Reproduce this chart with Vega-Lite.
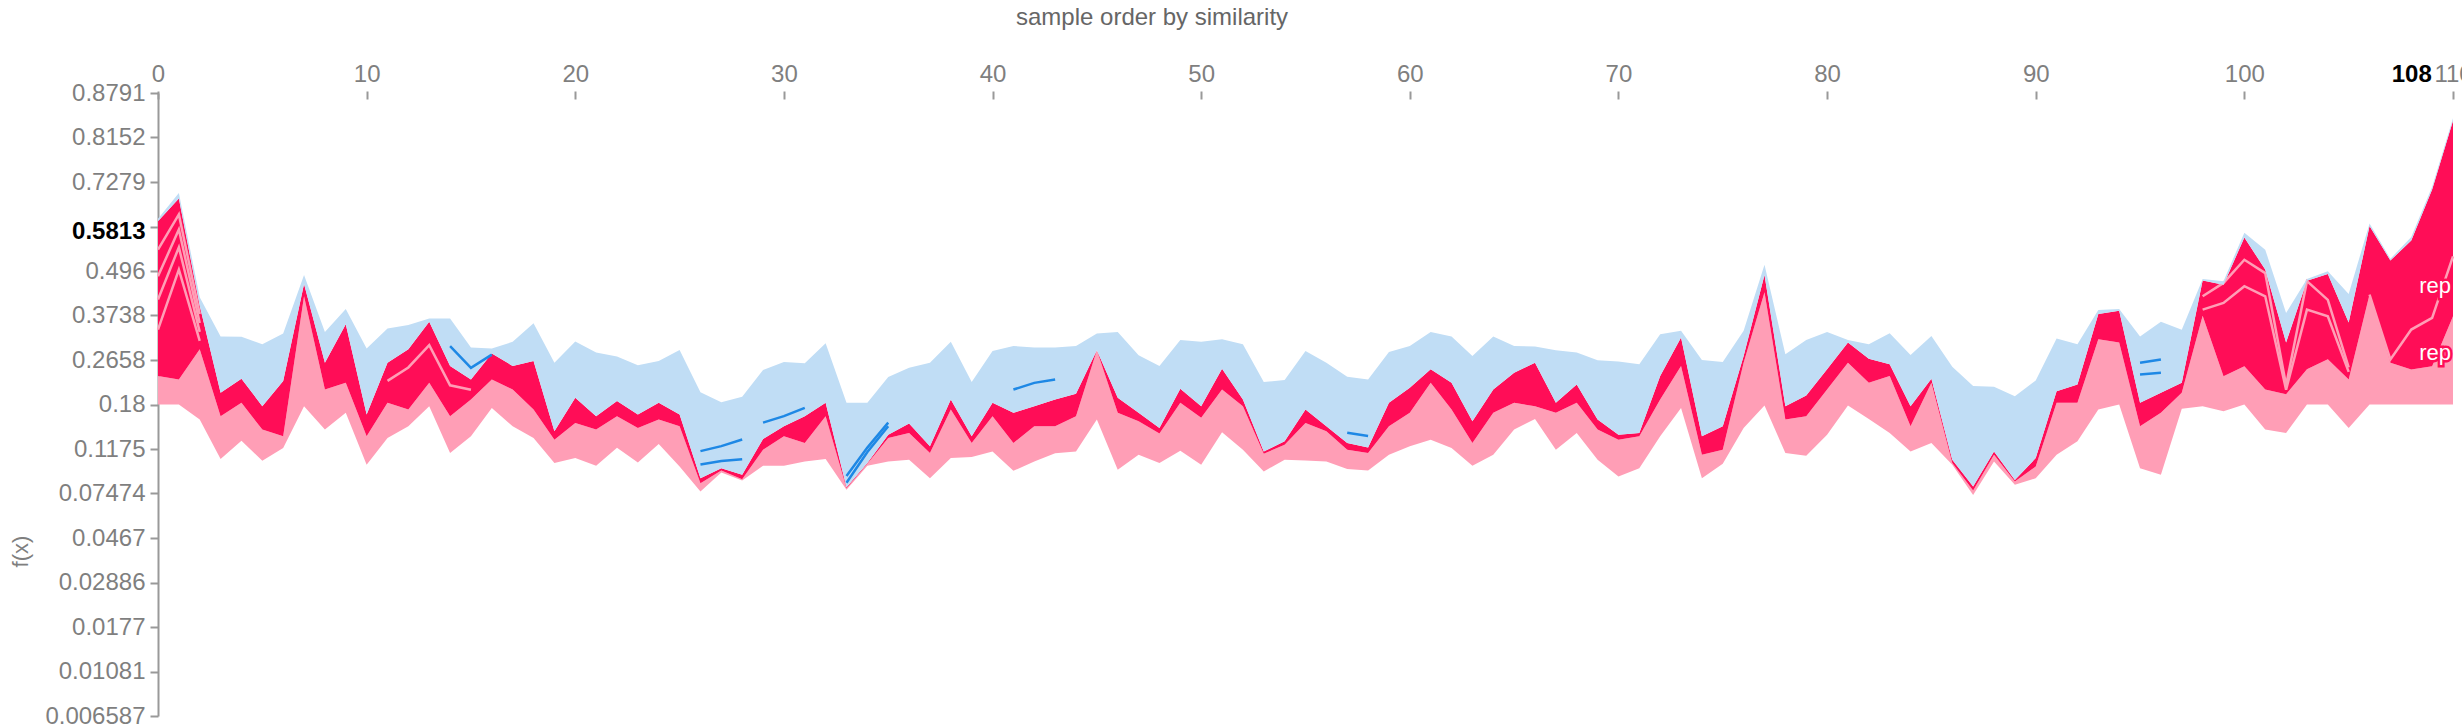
{
  "$schema": "https://vega.github.io/schema/vega-lite/v6.json",
  "autosize": {"type": "none"},
  "width": 2295,
  "height": 623,
  "padding": {"left": 158, "top": 93, "right": 9, "bottom": 8},
  "background": "white",
  "config": {
    "view": {"stroke": null},
    "font": "Liberation Sans",
    "axis": {"labelFont": "Liberation Sans", "titleFont": "Liberation Sans", "grid": false}
  },
  "title": {
    "text": "sample order by similarity",
    "anchor": "start",
    "frame": "group",
    "dx": 858,
    "dy": -28,
    "fontSize": 24,
    "font": "Liberation Sans",
    "fontWeight": "normal",
    "color": "#666666"
  },
  "resolve": {"axis": {"y": "independent"}},
  "datasets": {
    "pinkStripes": [
      {"k": "a", "i": 106, "y": -0.281}, {"k": "a", "i": 107, "y": -1.011}, {"k": "a", "i": 108, "y": -0.674}, {"k": "a", "i": 109, "y": -0.543}, {"k": "a", "i": 110, "y": 0.149},
      {"k": "b", "i": 98, "y": -0.3}, {"k": "b", "i": 99, "y": -0.15}, {"k": "b", "i": 100, "y": 0.11}, {"k": "b", "i": 101, "y": -0.04}, {"k": "b", "i": 102, "y": -1.3}, {"k": "b", "i": 103, "y": -0.13}, {"k": "b", "i": 104, "y": -0.34}, {"k": "b", "i": 105, "y": -1.1},
      {"k": "c", "i": 98, "y": -0.45}, {"k": "c", "i": 99, "y": -0.375}, {"k": "c", "i": 100, "y": -0.187}, {"k": "c", "i": 101, "y": -0.3}, {"k": "c", "i": 102, "y": -1.35}, {"k": "c", "i": 103, "y": -0.45}, {"k": "c", "i": 104, "y": -0.524}, {"k": "c", "i": 105, "y": -1.15},
      {"k": "d", "i": 0, "y": 0.224}, {"k": "d", "i": 1, "y": 0.62}, {"k": "d", "i": 2, "y": -0.5},
      {"k": "e", "i": 0, "y": -0.075}, {"k": "e", "i": 1, "y": 0.45}, {"k": "e", "i": 2, "y": -0.6},
      {"k": "f", "i": 0, "y": -0.337}, {"k": "f", "i": 1, "y": 0.25}, {"k": "f", "i": 2, "y": -0.7},
      {"k": "g", "i": 0, "y": -0.674}, {"k": "g", "i": 1, "y": 0.0}, {"k": "g", "i": 2, "y": -0.8},
      {"k": "h", "i": 11, "y": -1.25}, {"k": "h", "i": 12, "y": -1.1}, {"k": "h", "i": 13, "y": -0.85}, {"k": "h", "i": 14, "y": -1.3}, {"k": "h", "i": 15, "y": -1.35}
    ],
    "blueStripes": [
      {"k": "m1", "i": 14, "y": -0.861}, {"k": "m1", "i": 15, "y": -1.104}, {"k": "m1", "i": 16, "y": -0.955},
      {"k": "m2", "i": 26, "y": -2.04}, {"k": "m2", "i": 27, "y": -1.984}, {"k": "m2", "i": 28, "y": -1.909},
      {"k": "m3", "i": 26, "y": -2.19}, {"k": "m3", "i": 27, "y": -2.15}, {"k": "m3", "i": 28, "y": -2.13},
      {"k": "m4", "i": 33, "y": -2.395}, {"k": "m4", "i": 34, "y": -2.05}, {"k": "m4", "i": 35, "y": -1.76},
      {"k": "m5", "i": 33, "y": -2.32}, {"k": "m5", "i": 34, "y": -2.0}, {"k": "m5", "i": 35, "y": -1.72},
      {"k": "m6", "i": 95, "y": -1.048}, {"k": "m6", "i": 96, "y": -1.011},
      {"k": "m7", "i": 95, "y": -1.179}, {"k": "m7", "i": 96, "y": -1.16},
      {"k": "m8", "i": 29, "y": -1.72}, {"k": "m8", "i": 30, "y": -1.647}, {"k": "m8", "i": 31, "y": -1.553},
      {"k": "m9", "i": 57, "y": -1.834}, {"k": "m9", "i": 58, "y": -1.87},
      {"k": "m11", "i": 41, "y": -1.348}, {"k": "m11", "i": 42, "y": -1.273}, {"k": "m11", "i": 43, "y": -1.235}
    ],
    "labels": [
      {"i": 108, "y": -0.188, "label": "rep"},
      {"i": 108, "y": -0.936, "label": "rep"}
    ]
  },
  "data": {
    "values": [
      {"i": 0, "b": -1.516, "p": -1.196, "f": 0.542, "t": 0.572},
      {"i": 1, "b": -1.516, "p": -1.234, "f": 0.8, "t": 0.86},
      {"i": 2, "b": -1.685, "p": -0.895, "f": -0.406, "t": -0.312},
      {"i": 3, "b": -2.129, "p": -1.648, "f": -1.384, "t": -0.752},
      {"i": 4, "b": -1.922, "p": -1.497, "f": -1.226, "t": -0.756},
      {"i": 5, "b": -2.148, "p": -1.798, "f": -1.535, "t": -0.839},
      {"i": 6, "b": -2.005, "p": -1.873, "f": -1.253, "t": -0.718},
      {"i": 7, "b": -1.535, "p": -0.3, "f": -0.162, "t": -0.06},
      {"i": 8, "b": -1.798, "p": -1.347, "f": -1.046, "t": -0.7},
      {"i": 9, "b": -1.61, "p": -1.271, "f": -0.613, "t": -0.444},
      {"i": 10, "b": -2.193, "p": -1.873, "f": -1.629, "t": -0.888},
      {"i": 11, "b": -1.892, "p": -1.497, "f": -1.046, "t": -0.662},
      {"i": 12, "b": -1.761, "p": -1.572, "f": -0.895, "t": -0.624},
      {"i": 13, "b": -1.535, "p": -1.271, "f": -0.587, "t": -0.549},
      {"i": 14, "b": -2.062, "p": -1.648, "f": -1.083, "t": -0.549},
      {"i": 15, "b": -1.873, "p": -1.46, "f": -1.234, "t": -0.876},
      {"i": 16, "b": -1.554, "p": -1.234, "f": -0.944, "t": -0.888},
      {"i": 17, "b": -1.761, "p": -1.347, "f": -1.083, "t": -0.812},
      {"i": 18, "b": -1.892, "p": -1.572, "f": -1.027, "t": -0.602},
      {"i": 19, "b": -2.174, "p": -1.911, "f": -1.817, "t": -1.046},
      {"i": 20, "b": -2.118, "p": -1.723, "f": -1.441, "t": -0.809},
      {"i": 21, "b": -2.204, "p": -1.798, "f": -1.648, "t": -0.933},
      {"i": 22, "b": -2.001, "p": -1.648, "f": -1.478, "t": -0.978},
      {"i": 23, "b": -2.167, "p": -1.779, "f": -1.629, "t": -1.076},
      {"i": 24, "b": -1.96, "p": -1.685, "f": -1.497, "t": -1.027},
      {"i": 25, "b": -2.212, "p": -1.761, "f": -1.629, "t": -0.903},
      {"i": 26, "b": -2.494, "p": -2.4, "f": -2.344, "t": -1.377},
      {"i": 27, "b": -2.28, "p": -2.257, "f": -2.231, "t": -1.49},
      {"i": 28, "b": -2.37, "p": -2.355, "f": -2.306, "t": -1.429},
      {"i": 29, "b": -2.204, "p": -2.024, "f": -1.904, "t": -1.128},
      {"i": 30, "b": -2.204, "p": -1.873, "f": -1.761, "t": -1.038},
      {"i": 31, "b": -2.156, "p": -1.949, "f": -1.648, "t": -1.053},
      {"i": 32, "b": -2.129, "p": -1.648, "f": -1.497, "t": -0.828},
      {"i": 33, "b": -2.475, "p": -2.457, "f": -2.445, "t": -1.497},
      {"i": 34, "b": -2.204, "p": -2.182, "f": -2.174, "t": -1.497},
      {"i": 35, "b": -2.156, "p": -1.892, "f": -1.855, "t": -1.207},
      {"i": 36, "b": -2.137, "p": -1.836, "f": -1.73, "t": -1.102},
      {"i": 37, "b": -2.344, "p": -2.062, "f": -1.986, "t": -1.046},
      {"i": 38, "b": -2.118, "p": -1.572, "f": -1.46, "t": -0.812},
      {"i": 39, "b": -2.107, "p": -1.949, "f": -1.873, "t": -1.264},
      {"i": 40, "b": -2.043, "p": -1.648, "f": -1.497, "t": -0.914},
      {"i": 41, "b": -2.261, "p": -1.949, "f": -1.61, "t": -0.858},
      {"i": 42, "b": -2.156, "p": -1.761, "f": -1.535, "t": -0.876},
      {"i": 43, "b": -2.065, "p": -1.761, "f": -1.46, "t": -0.876},
      {"i": 44, "b": -2.043, "p": -1.648, "f": -1.396, "t": -0.858},
      {"i": 45, "b": -1.685, "p": -0.907, "f": -0.907, "t": -0.718},
      {"i": 46, "b": -2.25, "p": -1.61, "f": -1.441, "t": -0.7},
      {"i": 47, "b": -2.08, "p": -1.704, "f": -1.61, "t": -0.963},
      {"i": 48, "b": -2.174, "p": -1.843, "f": -1.779, "t": -1.083},
      {"i": 49, "b": -2.035, "p": -1.497, "f": -1.339, "t": -0.79},
      {"i": 50, "b": -2.193, "p": -1.666, "f": -1.535, "t": -0.812},
      {"i": 51, "b": -1.828, "p": -1.347, "f": -1.113, "t": -0.782},
      {"i": 52, "b": -2.024, "p": -1.535, "f": -1.46, "t": -0.839},
      {"i": 53, "b": -2.268, "p": -2.069, "f": -2.043, "t": -1.264},
      {"i": 54, "b": -2.137, "p": -1.967, "f": -1.93, "t": -1.241},
      {"i": 55, "b": -2.144, "p": -1.723, "f": -1.572, "t": -0.914},
      {"i": 56, "b": -2.156, "p": -1.817, "f": -1.761, "t": -1.046},
      {"i": 57, "b": -2.242, "p": -2.024, "f": -1.949, "t": -1.204},
      {"i": 58, "b": -2.257, "p": -2.062, "f": -1.998, "t": -1.234},
      {"i": 59, "b": -2.08, "p": -1.761, "f": -1.497, "t": -0.925},
      {"i": 60, "b": -1.986, "p": -1.61, "f": -1.328, "t": -0.858},
      {"i": 61, "b": -1.911, "p": -1.271, "f": -1.121, "t": -0.7},
      {"i": 62, "b": -2.005, "p": -1.572, "f": -1.271, "t": -0.752},
      {"i": 63, "b": -2.204, "p": -1.949, "f": -1.704, "t": -0.97},
      {"i": 64, "b": -2.08, "p": -1.61, "f": -1.347, "t": -0.752},
      {"i": 65, "b": -1.798, "p": -1.497, "f": -1.159, "t": -0.858},
      {"i": 66, "b": -1.678, "p": -1.535, "f": -1.046, "t": -0.865},
      {"i": 67, "b": -2.024, "p": -1.61, "f": -1.497, "t": -0.907},
      {"i": 68, "b": -1.836, "p": -1.497, "f": -1.29, "t": -0.933},
      {"i": 69, "b": -2.137, "p": -1.798, "f": -1.685, "t": -1.019},
      {"i": 70, "b": -2.325, "p": -1.911, "f": -1.855, "t": -1.034},
      {"i": 71, "b": -2.231, "p": -1.873, "f": -1.836, "t": -1.065},
      {"i": 72, "b": -1.873, "p": -1.46, "f": -1.196, "t": -0.726},
      {"i": 73, "b": -1.554, "p": -1.083, "f": -0.764, "t": -0.688},
      {"i": 74, "b": -2.344, "p": -2.08, "f": -1.873, "t": -1.016},
      {"i": 75, "b": -2.182, "p": -2.024, "f": -1.761, "t": -1.038},
      {"i": 76, "b": -1.779, "p": -1.046, "f": -0.97, "t": -0.688},
      {"i": 77, "b": -1.527, "p": -0.256, "f": -0.06, "t": 0.053},
      {"i": 78, "b": -2.062, "p": -1.685, "f": -1.535, "t": -0.952},
      {"i": 79, "b": -2.092, "p": -1.648, "f": -1.414, "t": -0.79},
      {"i": 80, "b": -1.855, "p": -1.347, "f": -1.121, "t": -0.7},
      {"i": 81, "b": -1.527, "p": -1.046, "f": -0.82, "t": -0.79},
      {"i": 82, "b": -1.678, "p": -1.271, "f": -1.001, "t": -0.839},
      {"i": 83, "b": -1.836, "p": -1.196, "f": -1.065, "t": -0.715},
      {"i": 84, "b": -2.043, "p": -1.761, "f": -1.535, "t": -0.959},
      {"i": 85, "b": -1.949, "p": -1.271, "f": -1.226, "t": -0.745},
      {"i": 86, "b": -2.193, "p": -2.174, "f": -2.137, "t": -1.091},
      {"i": 87, "b": -2.532, "p": -2.483, "f": -2.438, "t": -1.309},
      {"i": 88, "b": -2.156, "p": -2.08, "f": -2.043, "t": -1.317},
      {"i": 89, "b": -2.419, "p": -2.381, "f": -2.363, "t": -1.422},
      {"i": 90, "b": -2.344, "p": -2.212, "f": -2.118, "t": -1.245},
      {"i": 91, "b": -2.08, "p": -1.497, "f": -1.366, "t": -0.775},
      {"i": 92, "b": -1.93, "p": -1.497, "f": -1.29, "t": -0.839},
      {"i": 93, "b": -1.572, "p": -0.782, "f": -0.5, "t": -0.455},
      {"i": 94, "b": -1.516, "p": -0.82, "f": -0.463, "t": -0.444},
      {"i": 95, "b": -2.231, "p": -1.761, "f": -1.497, "t": -0.752},
      {"i": 96, "b": -2.306, "p": -1.61, "f": -1.384, "t": -0.587},
      {"i": 97, "b": -1.565, "p": -1.384, "f": -1.271, "t": -0.677},
      {"i": 98, "b": -1.535, "p": -0.519, "f": -0.124, "t": -0.105},
      {"i": 99, "b": -1.591, "p": -1.198, "f": -0.17, "t": -0.13},
      {"i": 100, "b": -1.516, "p": -1.086, "f": 0.36, "t": 0.415},
      {"i": 101, "b": -1.798, "p": -1.348, "f": 0.0, "t": 0.224},
      {"i": 102, "b": -1.836, "p": -1.4, "f": -0.82, "t": -0.487},
      {"i": 103, "b": -1.516, "p": -1.121, "f": -0.125, "t": -0.105},
      {"i": 104, "b": -1.516, "p": -1.008, "f": -0.05, "t": -0.019},
      {"i": 105, "b": -1.779, "p": -1.234, "f": -0.594, "t": -0.275},
      {"i": 106, "b": -1.516, "p": -0.281, "f": 0.489, "t": 0.519},
      {"i": 107, "b": -1.516, "p": -1.048, "f": 0.102, "t": 0.121},
      {"i": 108, "b": -1.516, "p": -1.123, "f": 0.328, "t": 0.365},
      {"i": 109, "b": -1.516, "p": -1.086, "f": 0.9, "t": 0.93},
      {"i": 110, "b": -1.516, "p": -0.524, "f": 1.671, "t": 1.701}
    ]
  },
  "encoding": {
    "x": {
      "field": "i",
      "type": "quantitative",
      "scale": {"domain": [0, 110], "nice": false, "zero": false},
      "axis": {
        "orient": "top",
        "title": null,
        "values": [0, 10, 20, 30, 40, 50, 60, 70, 80, 90, 100, 110, 108],
        "domain": false,
        "offset": -6,
        "tickSize": 8,
        "tickWidth": 2,
        "tickColor": "#999999",
        "tickOpacity": {"condition": {"test": "datum.value == 108", "value": 0}, "value": 1},
        "labelFontSize": 24,
        "labelPadding": 5,
        "labelFlush": false,
        "labelOverlap": false,
        "labelBound": false,
        "labelColor": {"condition": {"test": "datum.value == 108", "value": "#000000"}, "value": "#7f7f7f"},
        "labelFontWeight": {"condition": {"test": "datum.value == 108", "value": "bold"}, "value": "normal"}
      }
    }
  },
  "layer": [
    {
      "mark": {"type": "area", "color": "#FF9EB6", "interpolate": "linear"},
      "encoding": {
        "y": {
          "field": "b",
          "type": "quantitative",
          "scale": {"domain": [-5.016, 1.984], "nice": false, "zero": false},
          "axis": {
            "title": "f(x)",
            "titleX": -138,
            "titleY": 458,
            "titleFontSize": 22,
            "titleFontWeight": "normal",
            "titleColor": "#7f7f7f",
            "titleAlign": "center",
            "titleBaseline": "middle",
            "values": [-5.016, -4.516, -4.016, -3.516, -3.016, -2.516, -2.016, -1.516, -1.016, -0.516, -0.016, 0.484, 0.984, 1.484, 1.984],
            "labelExpr": "['0.006587','0.01081','0.0177','0.02886','0.0467','0.07474','0.1175','0.18','0.2658','0.3738','0.496','0.5813','0.7279','0.8152','0.8791'][round((datum.value + 5.016) * 2)]",
            "domainColor": "#999999",
            "domainWidth": 2,
            "tickColor": "#999999",
            "tickWidth": 2,
            "tickSize": 8,
            "labelFontSize": 24,
            "labelPadding": 5,
            "labelOverlap": false,
            "labelBound": false,
            "labelFlush": false,
            "labelOffset": {"condition": {"test": "abs(datum.value - 0.484) < 0.01", "value": 5}, "value": 0},
            "labelColor": {"condition": {"test": "abs(datum.value - 0.484) < 0.01", "value": "#000000"}, "value": "#7f7f7f"},
            "labelFontWeight": {"condition": {"test": "abs(datum.value - 0.484) < 0.01", "value": "bold"}, "value": "normal"}
          }
        },
        "y2": {"field": "p"}
      }
    },
    {
      "mark": {"type": "area", "color": "#FF0D57", "interpolate": "linear"},
      "encoding": {
        "y": {"field": "p", "type": "quantitative", "axis": null},
        "y2": {"field": "f"}
      }
    },
    {
      "data": {"name": "pinkStripes"},
      "mark": {"type": "line", "color": "#FF9EB6", "strokeWidth": 2.5, "interpolate": "linear"},
      "encoding": {
        "y": {"field": "y", "type": "quantitative", "axis": null},
        "detail": {"field": "k"}
      }
    },
    {
      "mark": {"type": "area", "color": "#C0DDF5", "interpolate": "linear"},
      "encoding": {
        "y": {"field": "f", "type": "quantitative", "axis": null},
        "y2": {"field": "t"}
      }
    },
    {
      "data": {"name": "blueStripes"},
      "mark": {"type": "line", "color": "#1E88E5", "strokeWidth": 2.5, "interpolate": "linear"},
      "encoding": {
        "y": {"field": "y", "type": "quantitative", "axis": null},
        "detail": {"field": "k"}
      }
    },
    {
      "data": {"name": "labels"},
      "mark": {"type": "text", "align": "left", "baseline": "middle", "dx": 8, "fontSize": 22, "font": "Liberation Sans", "fill": "#FF0D57", "stroke": "#FF0D57", "strokeWidth": 5, "clip": true},
      "encoding": {
        "y": {"field": "y", "type": "quantitative", "axis": null},
        "text": {"field": "label"}
      }
    },
    {
      "data": {"name": "labels"},
      "mark": {"type": "text", "align": "left", "baseline": "middle", "dx": 8, "fontSize": 22, "font": "Liberation Sans", "fill": "#FFFFFF", "clip": true},
      "encoding": {
        "y": {"field": "y", "type": "quantitative", "axis": null},
        "text": {"field": "label"}
      }
    }
  ]
}
